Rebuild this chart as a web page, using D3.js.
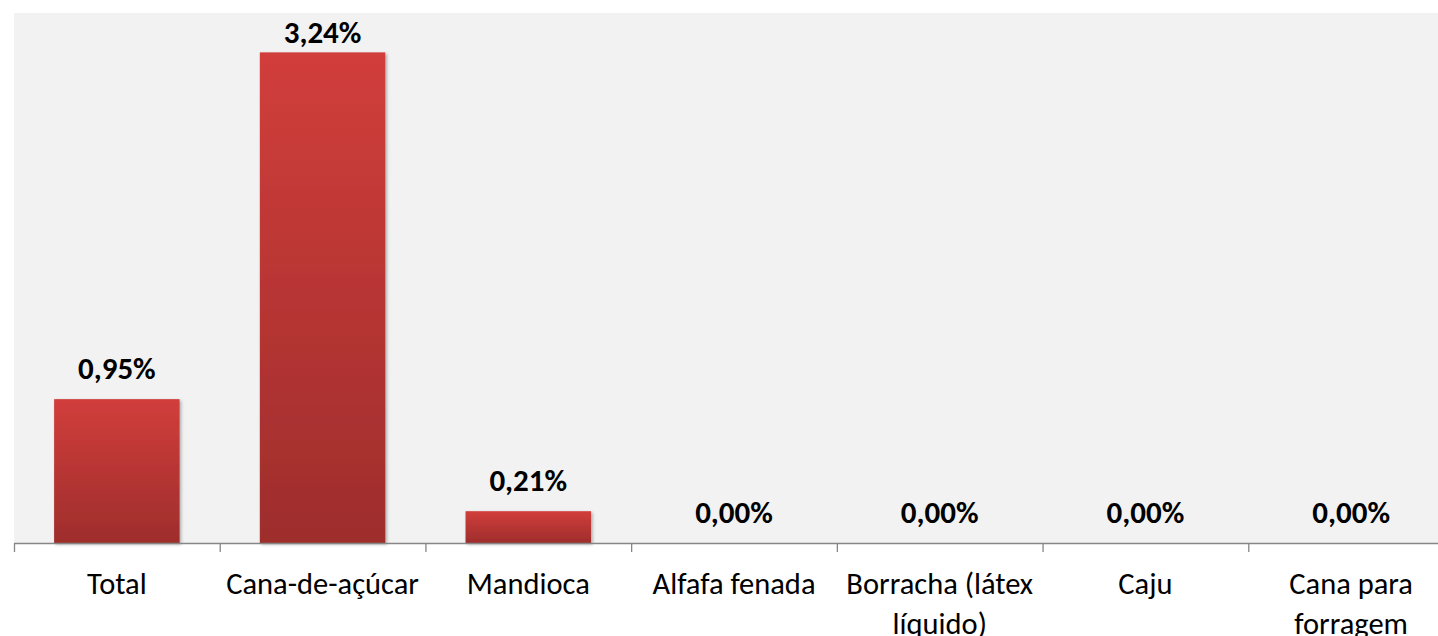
<!DOCTYPE html>
<html>
<head>
<meta charset="utf-8">
<script src="https://cdn.jsdelivr.net/npm/d3@7"></script>
<style>
  body { margin: 0; background: #fff; }
  svg { display: block; }
</style>
</head>
<body>
<svg id="chart"></svg>
<script>
  // Chart data
  const categories = ["Total", "Cana-de-açúcar", "Mandioca", "Alfafa fenada", "Borracha (látex líquido)", "Caju", "Cana para forragem"];
  const labelLines = [["Total"], ["Cana-de-açúcar"], ["Mandioca"], ["Alfafa fenada"], ["Borracha (látex", "líquido)"], ["Caju"], ["Cana para", "forragem"]];
  const values = [0.95, 3.24, 0.21, 0.00, 0.00, 0.00, 0.00];

  const width = 1438;
  const height = 636;
  const margin = {top: 13, left: 14, bottom: 93};
  const plotRight = 1454; // plot runs past the window edge
  const fontFamily = "Carlito, 'Open Sans', 'DejaVu Sans', sans-serif";

  const svg = d3.select("#chart")
    .attr("width", width)
    .attr("height", height)
    .attr("viewBox", [0, 0, width, height]);

  const defs = svg.append("defs");
  const grad = defs.append("linearGradient")
    .attr("id", "barGrad")
    .attr("x1", 0).attr("y1", 0).attr("x2", 0).attr("y2", 1);
  grad.append("stop").attr("offset", "0%").attr("stop-color", "#d13e3b");
  grad.append("stop").attr("offset", "100%").attr("stop-color", "#9e2d2c");

  const shadow = defs.append("filter").attr("id", "shadow")
    .attr("x", "-10%").attr("y", "-10%").attr("width", "130%").attr("height", "130%");
  shadow.append("feDropShadow")
    .attr("dx", 1.5).attr("dy", 1.5).attr("stdDeviation", 1.5)
    .attr("flood-color", "#000").attr("flood-opacity", 0.3);

  const x = d3.scaleBand()
    .domain(categories)
    .range([margin.left, plotRight])
    .paddingInner(0.39)
    .paddingOuter(0.195);

  const y = d3.scaleLinear()
    .domain([0, 3.5])
    .range([height - margin.bottom, margin.top]);

  // plot background
  svg.append("rect")
    .attr("x", margin.left)
    .attr("y", margin.top)
    .attr("width", plotRight - margin.left)
    .attr("height", y(0) - margin.top)
    .attr("fill", "#f2f2f2");

  // bars
  svg.append("g")
    .selectAll("rect")
    .data(values)
    .join("rect")
    .attr("x", (d, i) => x(categories[i]))
    .attr("y", d => y(d))
    .attr("width", x.bandwidth())
    .attr("height", d => y(0) - y(d))
    .attr("fill", "url(#barGrad)")
    .attr("filter", "url(#shadow)");

  // value labels (kept inside the plot area, like the original)
  svg.append("g")
    .selectAll("text")
    .data(values)
    .join("text")
    .attr("x", (d, i) => x(categories[i]) + x.bandwidth() / 2)
    .attr("y", d => Math.max(y(d) - 20, margin.top + 30))
    .attr("text-anchor", "middle")
    .attr("font-family", fontFamily)
    .attr("font-size", "31px")
    .attr("font-weight", "bold")
    .attr("fill", "#000")
    .text(d => d.toFixed(2).replace(".", ",") + "%");

  // x axis line and ticks between categories
  const step = x.step();
  const axisG = svg.append("g").attr("stroke", "#868686").attr("stroke-width", 1.3);
  axisG.append("line")
    .attr("x1", margin.left).attr("x2", plotRight)
    .attr("y1", y(0) + 0.5).attr("y2", y(0) + 0.5);
  axisG.selectAll("line.tick")
    .data(d3.range(categories.length))
    .join("line")
    .attr("class", "tick")
    .attr("x1", i => margin.left + i * step + 0.5)
    .attr("x2", i => margin.left + i * step + 0.5)
    .attr("y1", y(0))
    .attr("y2", y(0) + 9);

  // category labels
  const catG = svg.append("g")
    .selectAll("text")
    .data(labelLines)
    .join("text")
    .attr("x", (d, i) => x(categories[i]) + x.bandwidth() / 2)
    .attr("y", 594)
    .attr("text-anchor", "middle")
    .attr("font-family", fontFamily)
    .attr("font-size", "30.5px")
    .attr("fill", "#000");
  catG.selectAll("tspan")
    .data(d => d)
    .join("tspan")
    .attr("x", function() { return this.parentNode.getAttribute("x"); })
    .attr("dy", (d, i) => i === 0 ? 0 : 40)
    .text(d => d);
</script>
</body>
</html>
